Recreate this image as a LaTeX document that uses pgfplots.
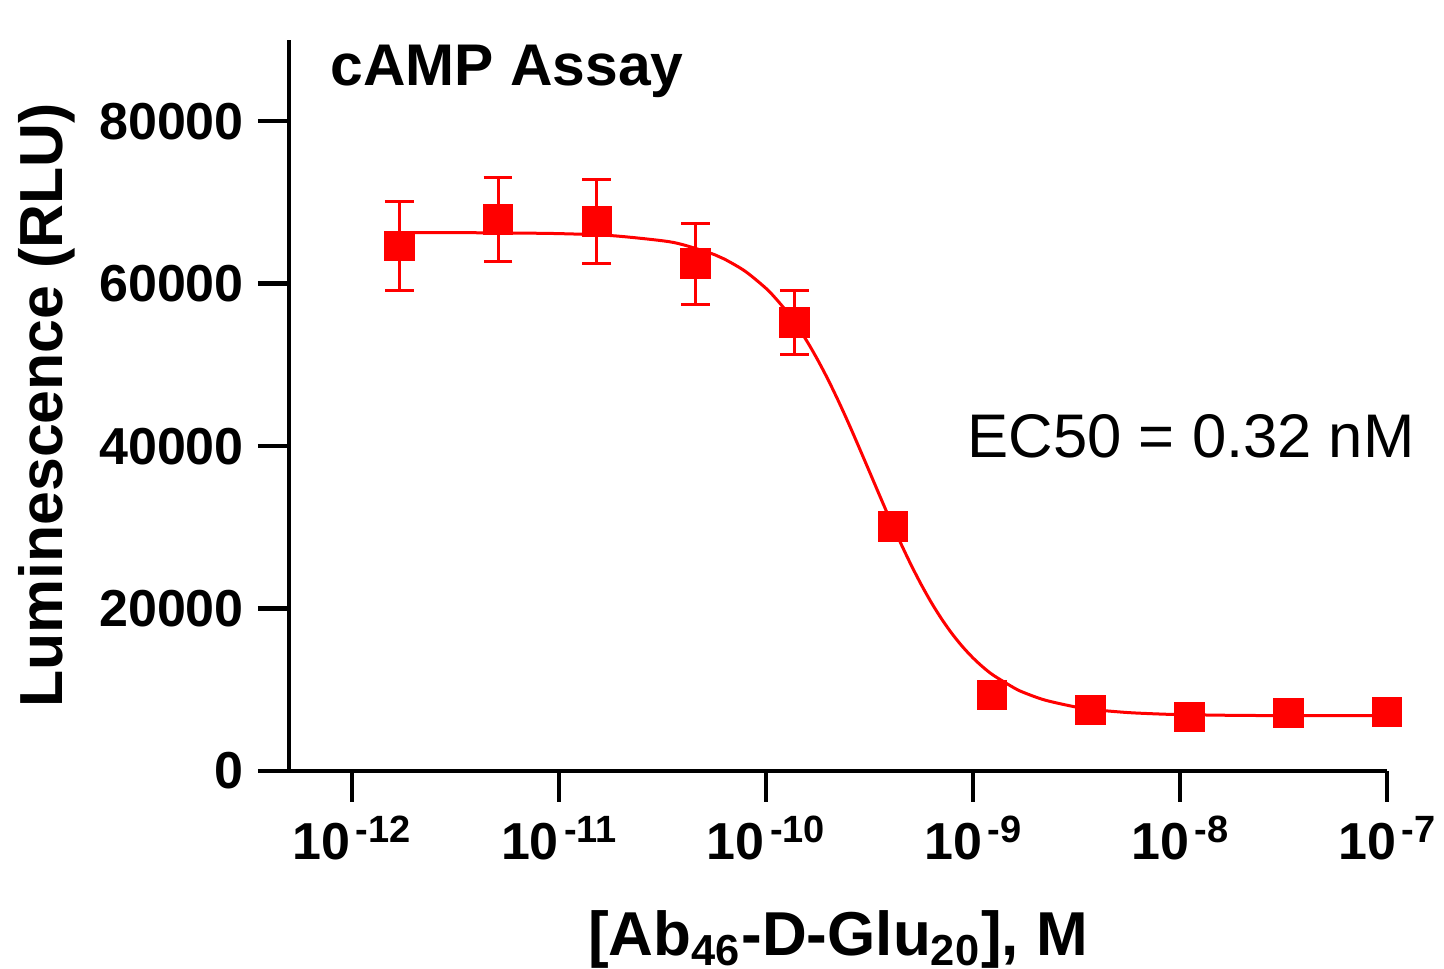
\documentclass[border=0pt]{standalone}
\usepackage{fontspec}
\setmainfont{Liberation Sans}
\usepackage{pgfplots}
\pgfplotsset{compat=1.18}
\usepackage{pgfplotstable}

\newcommand\tp[1]{10\kern1.3pt\raisebox{4.3pt}{\fontsize{9.5}{9.5}\selectfont #1}}

\pgfplotstableread{
x y err
-11.771 64630 5490
-11.294 67900 5190
-10.817 67690 5160
-10.340 62470 4980
-9.863 55185 3950
-9.386 30120 0
-8.908 9380 0
-8.431 7530 0
-7.954 6670 0
-7.477 7160 0
-7.000 7280 0
}\datatable

\pgfplotstableread{
x y
-11.771 66294
-11.5 66282
-11.25 66240
-11.0 66162
-10.75 65923
-10.5 65281
-10.4 64789
-10.25 63591
-10.2 63020
-10.1 61522
-10.0 59427
-9.95 58093
-9.9 56570
-9.85 54811
-9.8 52832
-9.75 50611
-9.7 48185
-9.65 45547
-9.6 42754
-9.55 39824
-9.5 36850
-9.45 33860
-9.4 30918
-9.35 28100
-9.3 25429
-9.25 22954
-9.2 20692
-9.15 18665
-9.1 16864
-9.05 15292
-9.0 13926
-8.95 12753
-8.9 11762
-8.8 10210
-8.75 9615
-8.65 8713
-8.5 7861
-8.4 7513
-8.25 7191
-8.1 7015
-8.0 6944
-7.75 6853
-7.5 6819
-7.0 6803
}\fittable

\begin{document}
\begin{tikzpicture}
\useasboundingbox (-72.25pt,-49.5pt) rectangle (288.75pt,192.75pt);
\begin{axis}[
  scale only axis, width=274.5pt, height=182.75pt,
  xmin=-12.304, xmax=-7, ymin=0, ymax=90000,
  axis lines*=left,
  axis line style={line width=1.1pt, black},
  every tick/.style={black, line width=1.1pt},
  tick align=outside,
  major tick length=7.75pt,
  xtick={-12,-11,-10,-9,-8,-7},
  xticklabels={\tp{-12},\tp{-11},\tp{-10},\tp{-9},\tp{-8},\tp{-7}},
  ytick={0,20000,40000,60000,80000},
  yticklabels={0,20000,40000,60000,80000},
  scaled y ticks=false,
  scaled x ticks=false,
  minor tick num=0,
  tick label style={font=\fontsize{13}{13}\selectfont\bfseries},
  xlabel={[Ab\textsubscript{46}-D-Glu\textsubscript{20}], M},
  ylabel={Luminescence (RLU)},
  xlabel style={font=\fontsize{15.5}{15.5}\selectfont\bfseries, at={(axis description cs:0.5,-0.2518)}, anchor=base},
  ylabel style={font=\fontsize{15.2}{15.2}\selectfont\bfseries, at={(axis description cs:-0.2067,0.5)}, anchor=base, rotate=0},
  clip=false,
]
\addplot[red, line width=0.75pt, no marks, smooth] table[x=x, y=y] {\fittable};
\addplot[red, only marks, mark=square*, mark size=3.7pt,
  mark options={fill=red, draw=red, line width=0pt},
  error bars/.cd, y dir=both, y explicit,
  error bar style={line width=0.75pt, red},
  error mark options={red, line width=0.75pt, mark size=3.6pt, rotate=90}]
  table[x=x, y=y, y error=err] {\datatable};
\node[anchor=base west, inner sep=0pt, font=\fontsize{14.7}{14.7}\selectfont\bfseries] at (axis cs:-12.106,84350) {cAMP Assay};
\node[anchor=base west, inner sep=0pt, font=\fontsize{15.4}{15.4}\selectfont] at (axis cs:-9.029,38650) {EC50 = 0.32 nM};
\end{axis}
\end{tikzpicture}
\end{document}
